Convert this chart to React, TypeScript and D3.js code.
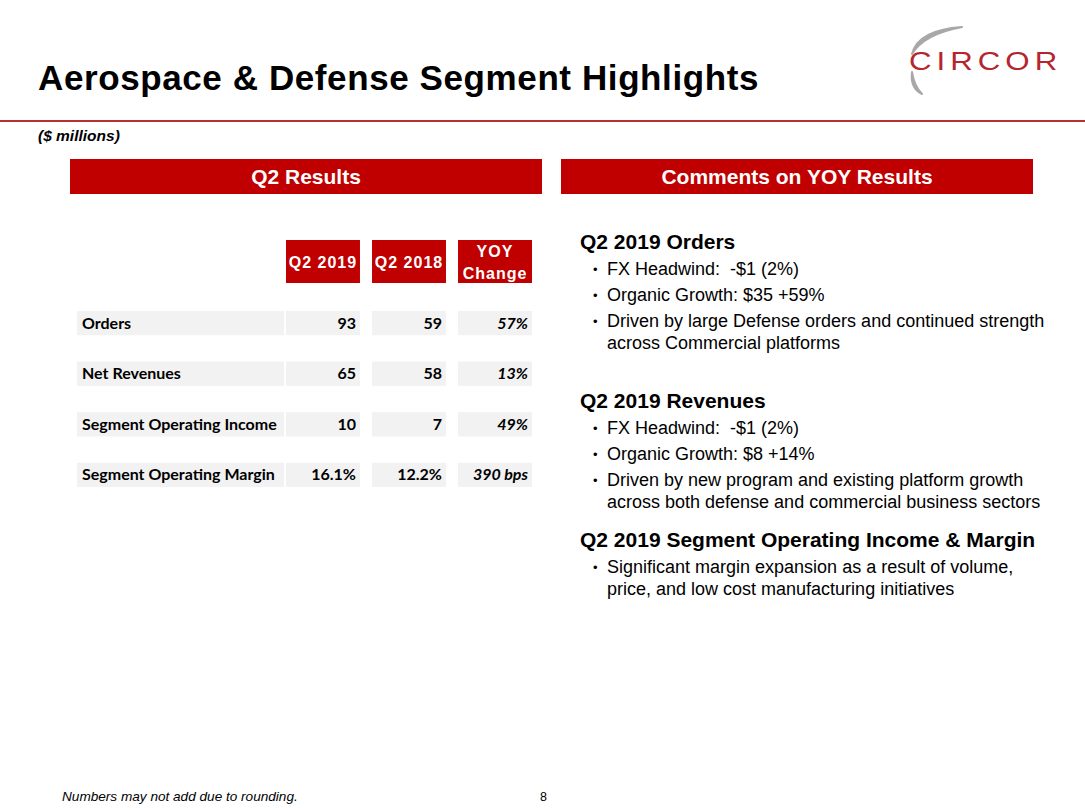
import React from "react";
import * as d3 from "d3";

const columns = ["Q2 2019", "Q2 2018", "YOY Change"];
const rowLabels = ["Orders", "Net Revenues", "Segment Operating Income", "Segment Operating Margin"];
const q2_2019 = ["93", "65", "10", "16.1%"];
const q2_2018 = ["59", "58", "7", "12.2%"];
const yoyChange = ["57%", "13%", "49%", "390 bps"];

const sections = [
  {
    heading: "Q2 2019 Orders",
    bullets: [
      ["FX Headwind:  -$1 (2%)"],
      ["Organic Growth: $35 +59%"],
      ["Driven by large Defense orders and continued strength", "across Commercial platforms"],
    ],
  },
  {
    heading: "Q2 2019 Revenues",
    bullets: [
      ["FX Headwind:  -$1 (2%)"],
      ["Organic Growth: $8 +14%"],
      ["Driven by new program and existing platform growth", "across both defense and commercial business sectors"],
    ],
  },
  {
    heading: "Q2 2019 Segment Operating Income & Margin",
    bullets: [["Significant margin expansion as a result of volume,", "price, and low cost manufacturing initiatives"]],
  },
];
const sectionTops = [249, 408, 547];

const RED = "#c00000";
const ARIAL = "'Liberation Sans', Arial, sans-serif";
const TBL = "Lato, 'Open Sans', sans-serif";

export default function App() {
  const W = 1085, H = 810;
  const x = d3.scaleBand<string>().domain(columns).range([286, 532]).paddingInner(0.14).paddingOuter(0);
  const y = d3.scaleBand<string>().domain(rowLabels).range([311, 487]).paddingInner(0.52).paddingOuter(0);
  const colVals = [q2_2019, q2_2018, yoyChange];

  return (
    <svg width={W} height={H} style={{ position: "absolute", left: 0, top: 0, background: "#fff" }}>
      <rect x={0} y={0} width={W} height={H} fill="#fff" />
      {/* Title */}
      <text x={38} y={90} fontFamily={ARIAL} fontWeight="bold" fontSize={35} letterSpacing={0.6} fill="#000">
        Aerospace &amp; Defense Segment Highlights
      </text>
      <line x1={0} x2={W} y1={121} y2={121} stroke="#b83232" strokeWidth={2} />
      <text x={38} y={141} fontFamily={ARIAL} fontWeight="bold" fontStyle="italic" fontSize={15.5} fill="#000">
        ($ millions)
      </text>

      {/* Logo */}
      <g>
        <path d="M 912 54 Q 918 30 962 27 Q 924 34 912 54 Z" fill="#a8a8a8" stroke="#a8a8a8" strokeWidth={2} strokeLinejoin="round" />
        <path d="M 912 72 Q 910 88 922 94 Q 914 86 912 72 Z" fill="#a8a8a8" stroke="#a8a8a8" strokeWidth={2} strokeLinejoin="round" />
        <text
          x={0}
          y={0}
          transform="translate(909,70) scale(1.25,1)"
          fontFamily={ARIAL}
          fontSize={25}
          fill="#b5252f"
          letterSpacing={4}
        >
          CIRCOR
        </text>
      </g>

      {/* Section boxes */}
      <rect x={70} y={159} width={472} height={35} fill={RED} />
      <text x={306} y={184} textAnchor="middle" fontFamily={ARIAL} fontWeight="bold" fontSize={21} fill="#fff">
        Q2 Results
      </text>
      <rect x={561} y={159} width={472} height={35} fill={RED} />
      <text x={797} y={184} textAnchor="middle" fontFamily={ARIAL} fontWeight="bold" fontSize={21} fill="#fff">
        Comments on YOY Results
      </text>

      {/* Table header */}
      {columns.map((c) => {
        const x0 = x(c)!;
        const bw = x.bandwidth();
        const words = c === "YOY Change" ? ["YOY", "Change"] : [c];
        return (
          <g key={c}>
            <rect x={x0} y={240} width={bw} height={43} fill={RED} />
            {words.length === 1 ? (
              <text x={x0 + bw / 2} y={267.5} textAnchor="middle" fontFamily={ARIAL} fontWeight="bold" fontSize={16} letterSpacing={1} fill="#fff">
                {c}
              </text>
            ) : (
              words.map((w, i) => (
                <text key={w} x={x0 + bw / 2} y={257 + i * 22} textAnchor="middle" fontFamily={ARIAL} fontWeight="bold" fontSize={16} fill="#fff" letterSpacing={1}>
                  {w}
                </text>
              ))
            )}
          </g>
        );
      })}

      {/* Table rows */}
      {rowLabels.map((r, i) => {
        const y0 = y(r)!;
        const bh = y.bandwidth();
        return (
          <g key={r}>
            <rect x={77} y={y0} width={207} height={bh} fill="#f2f2f2" />
            <text x={82} y={y0 + bh / 2 + 5.5} fontFamily={TBL} fontWeight="bold" fontSize={16} fill="#000">
              {r}
            </text>
            {columns.map((c, j) => (
              <g key={c}>
                <rect x={x(c)!} y={y0} width={x.bandwidth()} height={bh} fill="#f2f2f2" />
                <text
                  x={x(c)! + x.bandwidth() - 4}
                  y={y0 + bh / 2 + 5.5}
                  textAnchor="end"
                  fontFamily={TBL}
                  fontWeight="bold"
                  fontStyle={j === 2 ? "italic" : "normal"}
                  fontSize={16}
                  fill="#000"
                >
                  {colVals[j][i]}
                </text>
              </g>
            ))}
          </g>
        );
      })}

      {/* Comments */}
      {sections.map((s, si) => {
        const top = sectionTops[si];
        let lineY = top + 26;
        const out: React.ReactNode[] = [];
        s.bullets.forEach((b, bi) => {
          b.forEach((ln, li) => {
            out.push(
              <g key={`${bi}-${li}`}>
                {li === 0 && (
                  <text x={593} y={lineY - 1} fontFamily={ARIAL} fontSize={13} fill="#000">
                    •
                  </text>
                )}
                <text x={607} y={lineY} fontFamily={ARIAL} fontSize={18} fill="#000" style={{ whiteSpace: "pre" }}>
                  {ln}
                </text>
              </g>
            );
            lineY += li < b.length - 1 ? 22 : 26;
          });
        });
        return (
          <g key={s.heading}>
            <text x={580} y={top} fontFamily={ARIAL} fontWeight="bold" fontSize={21} fill="#000">
              {s.heading}
            </text>
            {out}
          </g>
        );
      })}

      {/* Footer */}
      <text x={62} y={801} fontFamily={ARIAL} fontStyle="italic" fontSize={13.6} fill="#000">
        Numbers may not add due to rounding.
      </text>
      <text x={540} y={801} fontFamily={ARIAL} fontSize={12.5} fill="#000">
        8
      </text>
    </svg>
  );
}
